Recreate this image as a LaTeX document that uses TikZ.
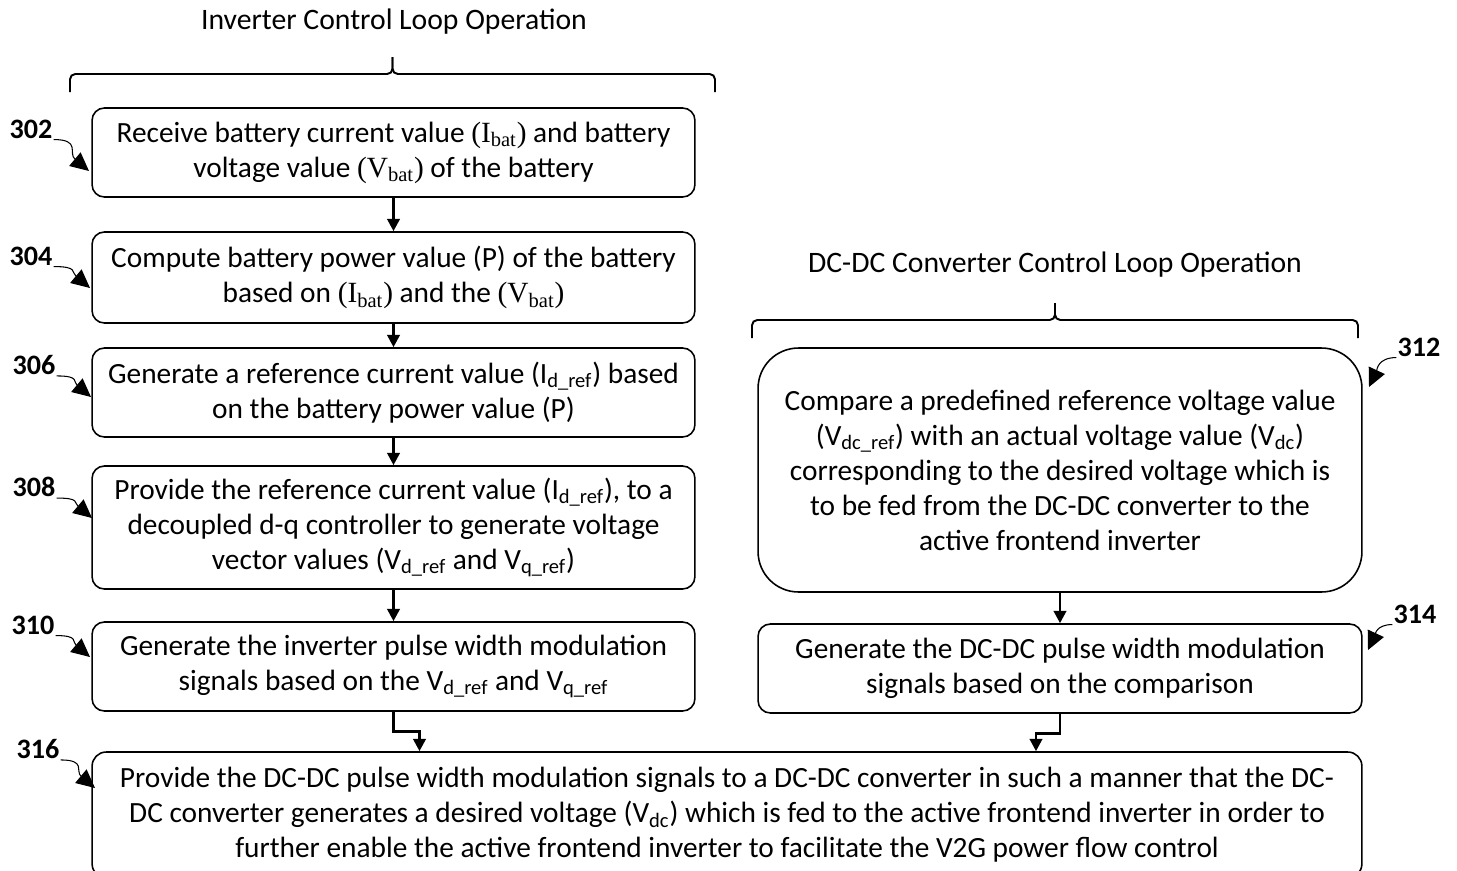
\documentclass[tikz,border=0pt]{standalone}
\usepackage{fontspec}
\setmainfont{Carlito}
\newfontfamily\tnr{Liberation Serif}
\usepackage{tikz}
\usetikzlibrary{arrows.meta,calc}
\tikzstyle{stepbox}=[draw, line width=0.9pt, rounded corners=7pt, minimum width=12.06cm, minimum height=1.78cm, align=center, inner sep=0pt, font=\fontsize{16.7}{19.9}\selectfont]
\tikzstyle{flow}=[line width=1.6pt, -{Triangle[length=7pt,width=7pt]}]
\tikzstyle{refnum}=[font=\bfseries\fontsize{16}{18}\selectfont, inner sep=0.5pt]
\tikzstyle{refarrow}=[line width=0.6pt, -{Triangle[length=10.5pt,width=10pt]}]
\tikzstyle{heading}=[font=\fontsize{16.9}{20}\selectfont]
\tikzstyle{brace}=[line width=1.1pt, rounded corners=3pt]
\newcommand{\tsub}[2]{{\tnr(#1\textsubscript{#2})}}
\newcommand{\headBrace}[3]{
	\draw[brace] (#1,#3+18) -- (#1,#3) -- ({(#1+#2)/2},#3) -- ({(#1+#2)/2},#3-17);
	\draw[brace] ({(#1+#2)/2},#3-17) -- ({(#1+#2)/2},#3) -- (#2,#3) -- (#2,#3+18);
}

\begin{document}
\begin{tikzpicture}[x=0.02cm, y=-0.02cm]
	\useasboundingbox (0,0) rectangle (1457,870);
%
	\node[heading] (hInv) at (394,22) {Inverter Control Loop Operation};
	\headBrace{70}{715}{74}
	\node[heading] (hDc) at (1055,265) {DC-DC Converter Control Loop Operation};
	\headBrace{752}{1358}{320}
%
	\node[stepbox] (b302) at (393.5,152.5) {Receive battery current value \tsub{I}{bat} and battery\\ voltage value \tsub{V}{bat} of the battery};
	\node[stepbox, minimum height=1.82cm] (b304) at (393.5,277.5) {Compute battery power value (P) of the battery\\ based on \tsub{I}{bat} and the \tsub{V}{bat}};
	\node[stepbox] (b306) at (393.5,392.5) {Generate a reference current value (I\textsubscript{d\_ref}) based\\ on the battery power value (P)};
	\node[stepbox, minimum height=2.46cm] (b308) at (393.5,527.5) {Provide the reference current value (I\textsubscript{d\_ref}), to a\\ decoupled d-q controller to generate voltage\\ vector values (V\textsubscript{d\_ref} and V\textsubscript{q\_ref})};
	\node[stepbox] (b310) at (393.5,666.5) {Generate the inverter pulse width modulation\\ signals based on the V\textsubscript{d\_ref} and V\textsubscript{q\_ref}};
%
	\node[stepbox, minimum width=12.08cm, minimum height=4.88cm, rounded corners=23pt] (b312) at (1060,470) {Compare a predefined reference voltage value\\ (V\textsubscript{dc\_ref}) with an actual voltage value (V\textsubscript{dc})\\ corresponding to the desired voltage which is\\ to be fed from the DC-DC converter to the\\ active frontend inverter};
	\node[stepbox, minimum width=12.08cm] (b314) at (1060,668.5) {Generate the DC-DC pulse width modulation\\ signals based on the comparison};
%
	\node[stepbox, minimum width=25.4cm, minimum height=2.52cm, rounded corners=8pt] (b316) at (727,815) {Provide the DC-DC pulse width modulation signals to a DC-DC converter in such a manner that the DC-\\ DC converter generates a desired voltage (V\textsubscript{dc}) which is fed to the active frontend inverter in order to\\ further enable the active frontend inverter to facilitate the V2G power flow control};
%
	\draw[flow] (b302.south) -- (b304.north);
	\draw[flow] (b304.south) -- (b306.north);
	\draw[flow] (b306.south) -- (b308.north);
	\draw[flow] (b308.south) -- (b310.north);
	\draw[flow] (b312.south) -- (b314.north);
	\draw[flow] (b310.south) -- ++(0,20) -| ($(b310.south |- b316.north)+(26,0)$);
	\draw[flow] (b314.south) -- ++(0,20) -| ($(b314.south |- b316.north)+(-24,0)$);
%
	\node[refnum] (l302) at (31,129) {302};
	\node[refnum] (l304) at (31,256) {304};
	\node[refnum] (l306) at (34,365) {306};
	\node[refnum] (l308) at (34,487) {308};
	\node[refnum] (l310) at (33,625) {310};
	\node[refnum] (l316) at (38,749) {316};
	\node[refnum] (l312) at (1419,347) {312};
	\node[refnum] (l314) at (1415,614) {314};
	\coordinate (p302) at (89,171);
	\coordinate (p304) at (90,288);
	\coordinate (p306) at (91,397);
	\coordinate (p308) at (92,518);
	\coordinate (p310) at (90,657);
	\coordinate (p316) at (95,788);
	\coordinate (p312) at (1369,387);
	\coordinate (p314) at (1368,650);
	\foreach \n in {302,304,306,308,310,316}
		\draw[refarrow] (l\n.south east) to[out=0, in=140, looseness=1.5] (p\n);
	\foreach \n in {312,314}
		\draw[refarrow] (l\n.south west) to[out=180, in=65, looseness=1.2] (p\n);
\end{tikzpicture}
\end{document}
